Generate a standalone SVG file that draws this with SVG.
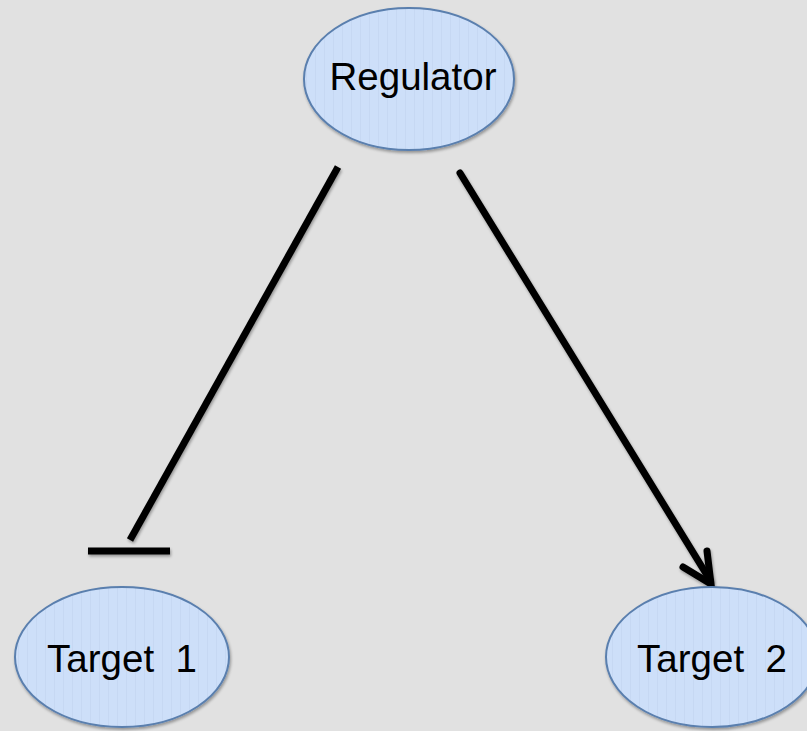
<svg xmlns="http://www.w3.org/2000/svg" width="807" height="731" viewBox="0 0 807 731">
  <defs>
    <filter id="shadow" filterUnits="userSpaceOnUse" x="0" y="0" width="807" height="731">
      <feGaussianBlur in="SourceAlpha" stdDeviation="1.5"/>
      <feOffset dx="1" dy="2" result="b"/>
      <feComponentTransfer><feFuncA type="linear" slope="0.35"/></feComponentTransfer>
      <feMerge><feMergeNode/><feMergeNode in="SourceGraphic"/></feMerge>
    </filter>
    <pattern id="stripes" width="9" height="10" patternUnits="userSpaceOnUse">
      <rect width="9" height="10" fill="#cddff9"/>
      <rect x="0" width="1" height="10" fill="#c6d8f3"/>
    </pattern>
  </defs>
  <style>
    .node { fill: url(#stripes); stroke: #5a7fae; stroke-width: 2; filter: url(#shadow); }
    .label { font-family: "Liberation Sans", Arial, sans-serif; font-size: 38.5px; fill: #000; white-space: pre; }
    .edge { stroke: #000; stroke-width: 7; fill: none; filter: url(#shadow); }
  </style>
  <rect width="807" height="731" fill="#e1e1e1"/>

  <g id="connectors">
    <!-- inhibition: Regulator to Target 1 -->
    <line class="edge" x1="338" y1="167" x2="130" y2="540"/>
    <line class="edge" x1="88" y1="551" x2="170" y2="551" stroke-width="6"/>
    <!-- activation: Regulator to Target 2 -->
    <line class="edge" x1="460" y1="173" x2="710" y2="580" stroke-linecap="round"/>
    <path class="edge" d="M683,567 L711,584 L707,551" stroke-linecap="round" stroke-linejoin="miter"/>
  </g>

  <g id="regulator">
    <ellipse class="node" cx="409" cy="79" rx="105" ry="71"/>
    <text class="label" x="413" y="90" text-anchor="middle">Regulator</text>
  </g>

  <g id="target1">
    <ellipse class="node" cx="122" cy="657" rx="107" ry="70"/>
    <text class="label" x="122" y="672" text-anchor="middle">Target  1</text>
  </g>

  <g id="target2">
    <ellipse class="node" cx="712" cy="657" rx="106" ry="70"/>
    <text class="label" x="712" y="672" text-anchor="middle">Target  2</text>
  </g>
</svg>
